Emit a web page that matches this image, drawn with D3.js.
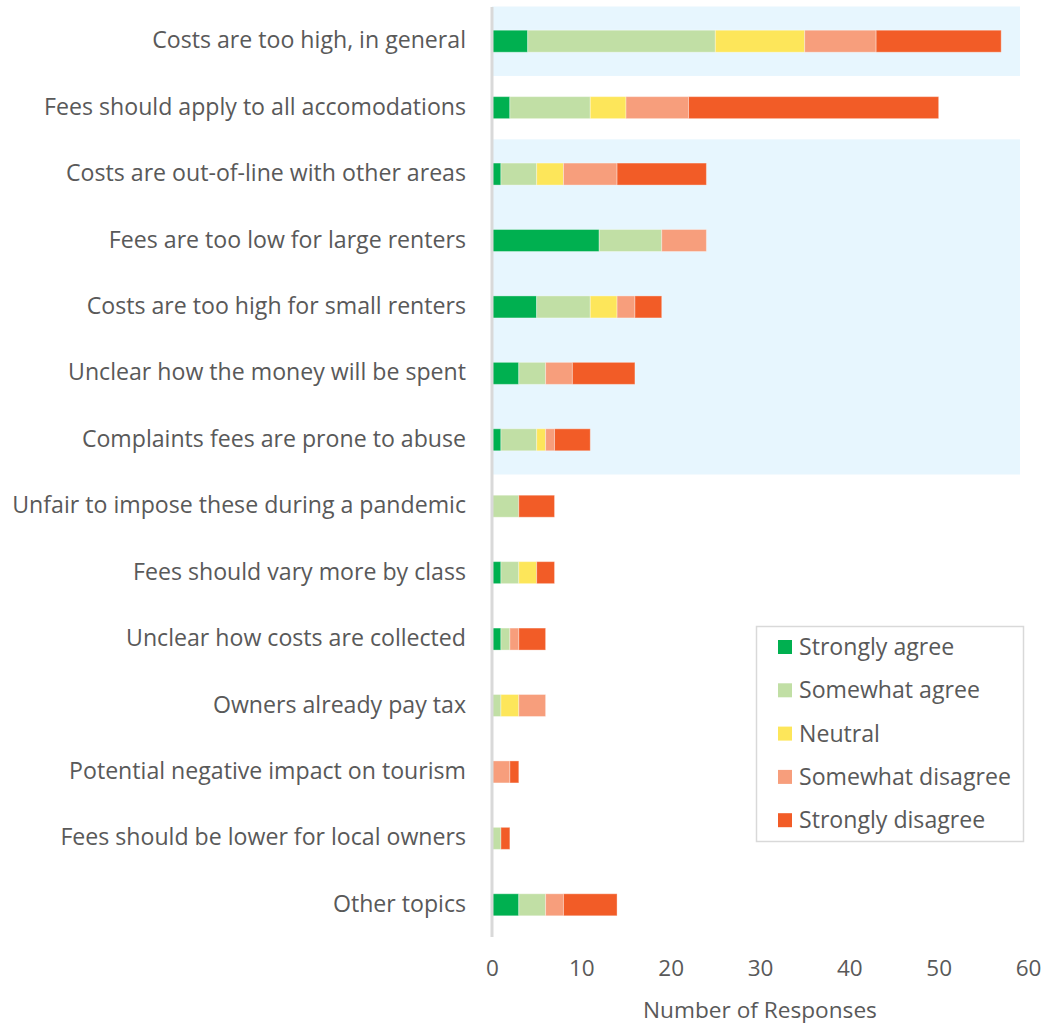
<!DOCTYPE html>
<html>
<head>
<meta charset="utf-8">
<script src="https://cdn.jsdelivr.net/npm/d3@7"></script>
<style>
  html, body { margin: 0; padding: 0; background: #fff; }
  svg { display: block; }
  text { font-family: "Open Sans", Lato, sans-serif; fill: #595959; }
</style>
</head>
<body>
<svg id="chart" width="1042" height="1024"></svg>
<script>
// ---------- data ----------
const categories = [
  "Costs are too high, in general",
  "Fees should apply to all accomodations",
  "Costs are out-of-line with other areas",
  "Fees are too low for large renters",
  "Costs are too high for small renters",
  "Unclear how the money will be spent",
  "Complaints fees are prone to abuse",
  "Unfair to impose these during a pandemic",
  "Fees should vary more by class",
  "Unclear how costs are collected",
  "Owners already pay tax",
  "Potential negative impact on tourism",
  "Fees should be lower for local owners",
  "Other topics"
];
const seriesNames = ["Strongly agree", "Somewhat agree", "Neutral", "Somewhat disagree", "Strongly disagree"];
const stronglyAgree    = [4, 2, 1, 12, 5, 3, 1, 0, 1, 1, 0, 0, 0, 3];
const somewhatAgree    = [21, 9, 4, 7, 6, 3, 4, 3, 2, 1, 1, 0, 1, 3];
const neutral          = [10, 4, 3, 0, 3, 0, 1, 0, 2, 0, 2, 0, 0, 0];
const somewhatDisagree = [8, 7, 6, 5, 2, 3, 1, 0, 0, 1, 3, 2, 0, 2];
const stronglyDisagree = [14, 28, 10, 0, 3, 7, 4, 4, 2, 3, 0, 1, 1, 6];
const highlighted = [
  "Costs are too high, in general",
  "Costs are out-of-line with other areas",
  "Fees are too low for large renters",
  "Costs are too high for small renters",
  "Unclear how the money will be spent",
  "Complaints fees are prone to abuse"
];
const xTicks = [0, 10, 20, 30, 40, 50, 60];
const xTitle = "Number of Responses";
const colors = ["#00b050", "#c1dfa5", "#fde65a", "#f79e7c", "#f25c27"];

// ---------- layout ----------
const svg = d3.select("#chart");
const x0 = 492, x60 = 1028, bandRight = 1020;
const yTop = 7, yBottom = 937;
const barH = 22;

const x = d3.scaleLinear().domain([0, 60]).range([x0, x60]);
const y = d3.scaleBand().domain(categories).range([yTop, yBottom]).paddingInner(0).paddingOuter(0);
const color = d3.scaleOrdinal().domain(seriesNames).range(colors);

const seriesValues = [stronglyAgree, somewhatAgree, neutral, somewhatDisagree, stronglyDisagree];
const table = categories.map((c, i) => {
  const row = { category: c };
  seriesNames.forEach((s, j) => row[s] = seriesValues[j][i]);
  return row;
});
const stacked = d3.stack().keys(seriesNames)(table);

// helper: pick a font size so a reference string spans a target width
function fitSize(str, targetWidth) {
  const t = svg.append("text").attr("font-size", 20).text(str);
  const w = t.node().getComputedTextLength();
  t.remove();
  return 20 * targetWidth / w;
}
const labelSize = fitSize("Unfair to impose these during a pandemic", 454);
const legendSize = fitSize("Somewhat disagree", 212);
const titleSize = fitSize(xTitle, 234);
const tickSize = 22.5;

// highlight bands (contiguous runs)
const runs = [];
categories.forEach((c, i) => {
  if (highlighted.includes(c)) {
    const last = runs[runs.length - 1];
    if (last && last.end === i - 1) last.end = i; else runs.push({ start: i, end: i });
  }
});
svg.append("g").selectAll("rect").data(runs).join("rect")
  .attr("x", x(0))
  .attr("width", bandRight - x(0))
  .attr("y", d => y(categories[d.start]) - 0.5)
  .attr("height", d => y(categories[d.end]) + y.bandwidth() - y(categories[d.start]) + 3)
  .attr("fill", "#e7f6fe");

// bars
svg.append("g").selectAll("g").data(stacked).join("g")
  .attr("fill", d => color(d.key))
  .selectAll("rect").data(d => d.filter(p => p[1] - p[0] > 0)).join("rect")
  .attr("x", d => x(d[0]))
  .attr("width", d => x(d[1]) - x(d[0]))
  .attr("y", d => y(d.data.category) + y.bandwidth() / 2 - barH / 2 + 1)
  .attr("height", barH)
  .attr("stroke", "#ffffff")
  .attr("stroke-opacity", 0.35)
  .attr("stroke-width", 1);

// vertical axis line
svg.append("line")
  .attr("x1", x(0)).attr("x2", x(0))
  .attr("y1", yTop).attr("y2", yBottom)
  .attr("stroke", "#d9d9d9").attr("stroke-width", 3);

// category labels
svg.append("g").selectAll("text").data(categories).join("text")
  .attr("x", 466)
  .attr("y", d => y(d) + y.bandwidth() / 2 - 1)
  .attr("text-anchor", "end")
  .attr("dominant-baseline", "central")
  .attr("font-size", labelSize)
  .text(d => d);

// x axis tick labels
const xAxis = d3.axisBottom(x).tickValues(xTicks).tickSize(0).tickPadding(0);
const gx = svg.append("g").attr("transform", `translate(0, ${yBottom + 23})`).call(xAxis);
gx.select(".domain").remove();
gx.selectAll("text")
  .attr("font-size", tickSize)
  .attr("fill", "#595959")
  .style("font-family", "'Open Sans', Lato, sans-serif");

// x axis title
svg.append("text")
  .attr("x", (x0 + x60) / 2)
  .attr("y", 1009)
  .attr("text-anchor", "middle")
  .attr("dominant-baseline", "central")
  .attr("font-size", titleSize)
  .text(xTitle);

// legend
const lg = svg.append("g");
lg.append("rect")
  .attr("x", 756.5).attr("y", 626.5)
  .attr("width", 267).attr("height", 215)
  .attr("fill", "#ffffff").attr("stroke", "#d9d9d9").attr("stroke-width", 1.5);
const items = lg.selectAll("g.item").data(seriesNames).join("g")
  .attr("class", "item")
  .attr("transform", (d, i) => `translate(778, ${647 + i * 43.3})`);
items.append("rect")
  .attr("x", 0).attr("y", -7).attr("width", 14).attr("height", 14)
  .attr("fill", d => color(d));
items.append("text")
  .attr("x", 21).attr("y", -1)
  .attr("dominant-baseline", "central")
  .attr("font-size", legendSize)
  .text(d => d);
</script>
</body>
</html>
